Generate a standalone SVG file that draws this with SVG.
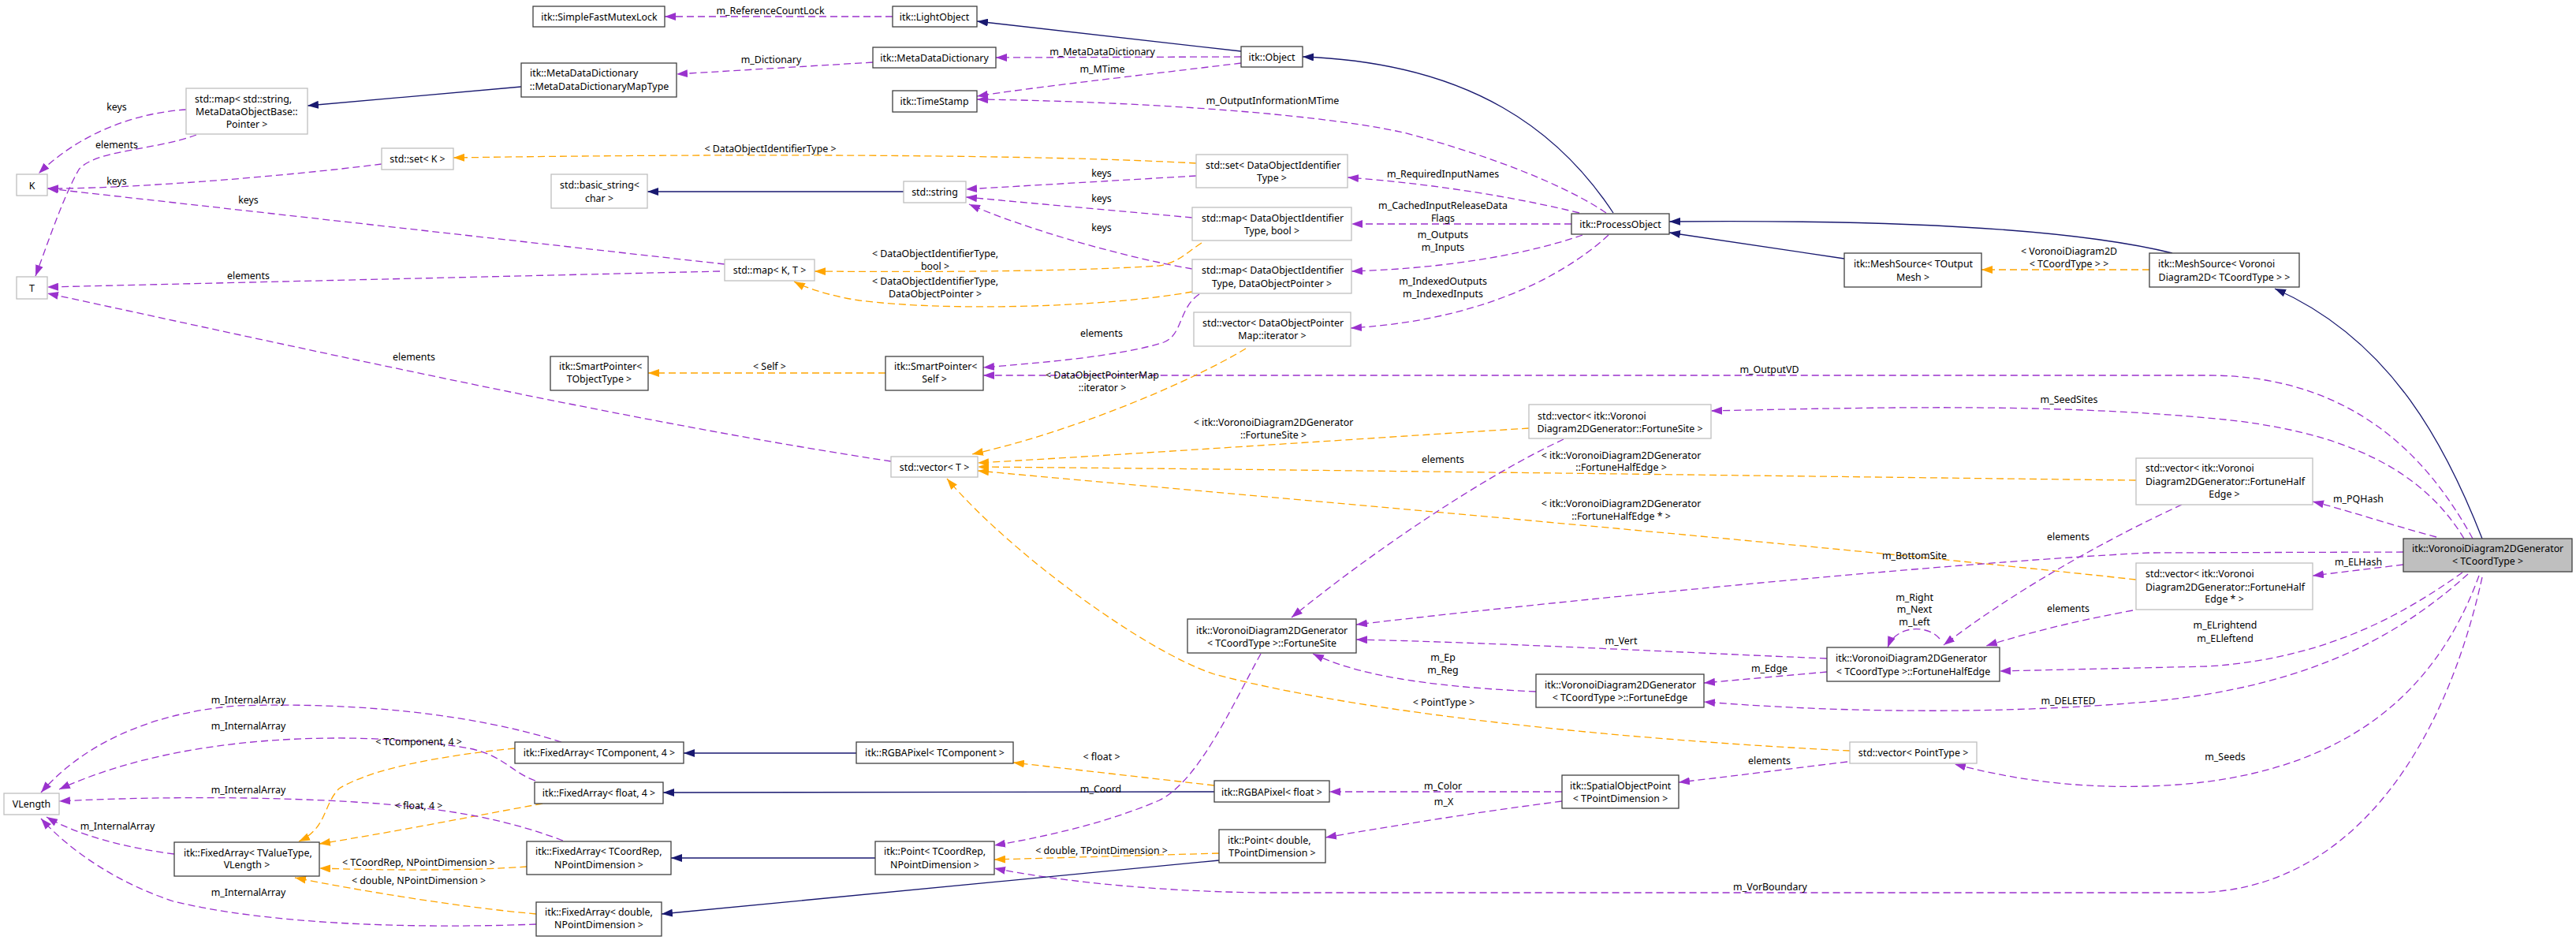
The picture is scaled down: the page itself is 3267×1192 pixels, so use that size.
<svg xmlns="http://www.w3.org/2000/svg" width="3267" height="1192" viewBox="0 0 3267 1192">
<style>
rect{fill:#fff;stroke:#404040;stroke-width:1.3}
.u rect{stroke:#bfbfbf}
#n_main rect{fill:#bfbfbf}
text{font-family:"Noto Sans","DejaVu Sans",sans-serif;font-size:12.4px;fill:#000}
.m{text-anchor:middle}
#edges path{fill:none;stroke-width:1.3}
.b{stroke:#191970}
.p{stroke:#9a32cd;stroke-dasharray:9,5}
.o{stroke:#ffa500;stroke-dasharray:9,5}
.b{marker-end:url(#mb)}
.p{marker-end:url(#mp)}
.o{marker-end:url(#mo)}
</style>
<defs>
<marker id="mb" viewBox="0 0 14 10" refX="14" refY="5" markerWidth="14" markerHeight="10" markerUnits="userSpaceOnUse" orient="auto"><path d="M0,0 L14,5 L0,10 z" fill="#191970"/></marker>
<marker id="mp" viewBox="0 0 14 10" refX="14" refY="5" markerWidth="14" markerHeight="10" markerUnits="userSpaceOnUse" orient="auto"><path d="M0,0 L14,5 L0,10 z" fill="#9a32cd"/></marker>
<marker id="mo" viewBox="0 0 14 10" refX="14" refY="5" markerWidth="14" markerHeight="10" markerUnits="userSpaceOnUse" orient="auto"><path d="M0,0 L14,5 L0,10 z" fill="#ffa500"/></marker>
</defs>
<rect x="0" y="0" width="3267" height="1192" style="fill:#fff;stroke:none"/>

<g id="edges">
<path class="b" d="M1574,65 L1239,27"/>
<path class="p" d="M1107,79 L858,94"/>
<path class="p" d="M1132,21 L843,21"/>
<path class="b" d="M661,110 L390,134"/>
<path class="b" d="M1146,243 L821,243"/>
<path class="p" d="M1574,72 L1263,73"/>
<path class="p" d="M1574,80 C1450,95 1300,112 1239,122"/>
<path class="p" d="M2037,270 C1990,238 1900,200 1780,168 C1650,140 1400,128 1239,126"/>
<path class="b" d="M2046,270 C1980,170 1870,80 1652,72"/>
<path class="o" d="M1517,207 C1300,195 900,195 575,200"/>
<path class="p" d="M1517,223 L1225,240"/>
<path class="p" d="M1512,276 L1225,250"/>
<path class="p" d="M1512,341 C1420,325 1300,290 1229,259"/>
<path class="o" d="M1524,308 C1505,320 1495,333 1470,337 C1350,345 1150,345 1033,344"/>
<path class="o" d="M1512,370 C1400,390 1200,395 1090,381 C1050,375 1020,364 1007,357"/>
<path class="p" d="M919,335 L60,239"/>
<path class="p" d="M913,344 L60,364"/>
<path class="p" d="M484,208 C350,225 150,240 60,239"/>
<path class="p" d="M236,139 C170,143 100,170 49,220"/>
<path class="p" d="M249,171 C200,190 120,190 100,215 C80,250 60,310 45,350"/>
<path class="p" d="M1130,585 C800,535 400,445 60,372"/>
<path class="p" d="M1521,373 C1495,390 1500,425 1476,434 C1420,452 1320,460 1247,466"/>
<path class="o" d="M1123,473 L822,473"/>
<path class="p" d="M3136,683 C3090,600 3000,476 2800,476 L1247,476"/>
<path class="o" d="M1580,442 C1500,490 1350,550 1233,576"/>
<path class="p" d="M2003,270 C1900,245 1800,232 1709,225"/>
<path class="p" d="M1993,284 L1714,284"/>
<path class="p" d="M2007,298 C1950,318 1850,340 1714,344"/>
<path class="p" d="M2040,298 C2000,335 1900,405 1713,416"/>
<path class="p" d="M3125,683 C3075,600 2980,545 2800,530 C2600,512 2400,516 2170,521"/>
<path class="o" d="M1939,543 C1700,558 1450,575 1240,587"/>
<path class="o" d="M2709,609 C2200,603 1700,596 1240,592"/>
<path class="o" d="M2709,735 C2300,690 1600,630 1240,597"/>
<path class="o" d="M2346,952 C2100,940 1750,910 1540,855 C1450,825 1280,700 1201,607"/>
<path class="p" d="M1983,557 C1880,605 1740,700 1638,783"/>
<path class="p" d="M2767,640 C2680,680 2560,745 2465,818"/>
<path class="p" d="M2705,774 C2640,786 2580,800 2519,819"/>
<path class="p" d="M2460,810 C2445,792 2405,792 2394,821"/>
<path class="p" d="M2317,835 C2100,826 1900,815 1720,811"/>
<path class="p" d="M2317,852 L2161,866"/>
<path class="p" d="M1948,877 C1800,870 1720,855 1665,829"/>
<path class="p" d="M3048,700 L2725,701 C2450,715 1950,765 1720,792"/>
<path class="p" d="M3048,716 L2933,730"/>
<path class="p" d="M3090,681 C3030,665 2970,645 2933,636"/>
<path class="p" d="M3123,726 C3060,770 2960,835 2800,845 L2536,851"/>
<path class="p" d="M3130,728 C3060,790 2950,870 2722,890 C2550,905 2350,905 2161,890"/>
<path class="p" d="M3144,730 C3100,850 3000,990 2722,997 C2620,1000 2540,985 2479,969"/>
<path class="p" d="M3148,732 C3100,950 2980,1132 2780,1132 L1600,1132 C1450,1130 1330,1115 1261,1101"/>
<path class="p" d="M2343,966 C2260,976 2200,984 2129,992"/>
<path class="p" d="M1981,1004 L1686,1004"/>
<path class="p" d="M1981,1016 C1880,1029 1780,1045 1681,1062"/>
<path class="o" d="M1540,996 L1285,967"/>
<path class="b" d="M1086,955 L867,955"/>
<path class="b" d="M1540,1004 L841,1005"/>
<path class="b" d="M1110,1088 L851,1088"/>
<path class="b" d="M1546,1091 L839,1159"/>
<path class="o" d="M1546,1082 L1261,1090"/>
<path class="p" d="M1599,829 C1560,900 1520,990 1470,1015 C1400,1045 1320,1062 1261,1072"/>
<path class="o" d="M653,949 C560,958 470,975 430,1000 C410,1020 415,1050 379,1067"/>
<path class="o" d="M688,1019 C600,1035 500,1055 405,1070"/>
<path class="o" d="M668,1099 C600,1104 500,1104 405,1101"/>
<path class="o" d="M680,1159 C580,1150 460,1130 374,1113"/>
<path class="p" d="M712,941 C600,905 450,890 300,895 C180,905 100,950 52,1005"/>
<path class="p" d="M679,990 C650,980 640,960 600,950 C500,930 250,920 75,1001"/>
<path class="p" d="M714,1066 C650,1042 580,1025 450,1017 C300,1008 150,1012 75,1016"/>
<path class="p" d="M221,1083 C160,1075 100,1060 59,1036"/>
<path class="p" d="M680,1172 C520,1178 340,1172 220,1143 C150,1120 90,1080 52,1038"/>
<path class="b" d="M3148,683 C3100,560 3030,430 2885,366"/>
<path class="b" d="M2755,321 C2650,295 2450,278 2117,281"/>
<path class="b" d="M2339,328 L2117,295"/>
<path class="o" d="M2726,342 L2513,342"/>

<g class="lbl">
<text class="m" x="977" y="17.5">m_ReferenceCountLock</text>
<text class="m" x="978" y="79.5">m_Dictionary</text>
<text class="m" x="1398" y="69.5">m_MetaDataDictionary</text>
<text class="m" x="1398" y="91.5">m_MTime</text>
<text class="m" x="1614" y="131.5">m_OutputInformationMTime</text>
<text class="m" x="977" y="192.5">&lt; DataObjectIdentifierType &gt;</text>
<text class="m" x="148" y="139.5">keys</text>
<text class="m" x="148" y="187.5">elements</text>
<text class="m" x="148" y="233.5">keys</text>
<text class="m" x="315" y="257.5">keys</text>
<text class="m" x="315" y="353.5">elements</text>
<text class="m" x="525" y="456.5">elements</text>
<text class="m" x="1397" y="223.5">keys</text>
<text class="m" x="1397" y="255.5">keys</text>
<text class="m" x="1397" y="292.5">keys</text>
<text class="m" x="1186" y="325.5">&lt; DataObjectIdentifierType,</text>
<text class="m" x="1186" y="341.5">bool &gt;</text>
<text class="m" x="1186" y="360.5">&lt; DataObjectIdentifierType,</text>
<text class="m" x="1186" y="376.5">DataObjectPointer &gt;</text>
<text class="m" x="1397" y="426.5">elements</text>
<text class="m" x="976" y="468.5">&lt; Self &gt;</text>
<text class="m" x="1398" y="479.5">&lt; DataObjectPointerMap</text>
<text class="m" x="1398" y="495.5">::iterator &gt;</text>
<text class="m" x="1830" y="224.5">m_RequiredInputNames</text>
<text class="m" x="1830" y="264.5">m_CachedInputReleaseData</text>
<text class="m" x="1830" y="280.5">Flags</text>
<text class="m" x="1830" y="301.5">m_Outputs</text>
<text class="m" x="1830" y="317.5">m_Inputs</text>
<text class="m" x="1830" y="360.5">m_IndexedOutputs</text>
<text class="m" x="1830" y="376.5">m_IndexedInputs</text>
<text class="m" x="2624" y="322.5">&lt; VoronoiDiagram2D</text>
<text class="m" x="2624" y="338.5">&lt; TCoordType &gt; &gt;</text>
<text class="m" x="2244" y="472.5">m_OutputVD</text>
<text class="m" x="2624" y="510.5">m_SeedSites</text>
<text class="m" x="1615" y="539.5">&lt; itk::VoronoiDiagram2DGenerator</text>
<text class="m" x="1615" y="555.5">::FortuneSite &gt;</text>
<text class="m" x="1830" y="586.5">elements</text>
<text class="m" x="2056" y="581.5">&lt; itk::VoronoiDiagram2DGenerator</text>
<text class="m" x="2056" y="596.5">::FortuneHalfEdge &gt;</text>
<text class="m" x="2056" y="642.5">&lt; itk::VoronoiDiagram2DGenerator</text>
<text class="m" x="2056" y="658.5">::FortuneHalfEdge * &gt;</text>
<text class="m" x="2991" y="636.5">m_PQHash</text>
<text class="m" x="2623" y="684.5">elements</text>
<text class="m" x="2428" y="708.5">m_BottomSite</text>
<text class="m" x="2991" y="716.5">m_ELHash</text>
<text class="m" x="2428" y="761.5">m_Right</text>
<text class="m" x="2428" y="776.5">m_Next</text>
<text class="m" x="2428" y="792.5">m_Left</text>
<text class="m" x="2623" y="775.5">elements</text>
<text class="m" x="2822" y="796.5">m_ELrightend</text>
<text class="m" x="2822" y="813.5">m_ELleftend</text>
<text class="m" x="2056" y="816.5">m_Vert</text>
<text class="m" x="1830" y="837.5">m_Ep</text>
<text class="m" x="1830" y="853.5">m_Reg</text>
<text class="m" x="2244" y="851.5">m_Edge</text>
<text class="m" x="2623" y="892.5">m_DELETED</text>
<text class="m" x="1831" y="894.5">&lt; PointType &gt;</text>
<text class="m" x="1397" y="963.5">&lt; float &gt;</text>
<text class="m" x="2822" y="963.5">m_Seeds</text>
<text class="m" x="2244" y="968.5">elements</text>
<text class="m" x="1830" y="1000.5">m_Color</text>
<text class="m" x="1396" y="1004.5">m_Coord</text>
<text class="m" x="1831" y="1020.5">m_X</text>
<text class="m" x="1397" y="1082.5">&lt; double, TPointDimension &gt;</text>
<text class="m" x="2245" y="1128.5">m_VorBoundary</text>
<text class="m" x="531" y="944.5">&lt; TComponent, 4 &gt;</text>
<text class="m" x="531" y="1025.5">&lt; float, 4 &gt;</text>
<text class="m" x="531" y="1097.5">&lt; TCoordRep, NPointDimension &gt;</text>
<text class="m" x="531" y="1120.5">&lt; double, NPointDimension &gt;</text>
<text class="m" x="315" y="891.5">m_InternalArray</text>
<text class="m" x="315" y="924.5">m_InternalArray</text>
<text class="m" x="315" y="1005.5">m_InternalArray</text>
<text class="m" x="149" y="1051.5">m_InternalArray</text>
<text class="m" x="315" y="1135.5">m_InternalArray</text>
</g>
</g>

<g id="n_sfml"><rect x="676" y="8" width="167" height="26"/><text class="m" x="760" y="25.5">itk::SimpleFastMutexLock</text></g>
<g id="n_light"><rect x="1132" y="8" width="107" height="26"/><text class="m" x="1185" y="25.5">itk::LightObject</text></g>
<g id="n_mdd"><rect x="1107" y="60" width="156" height="26"/><text class="m" x="1185" y="77.5">itk::MetaDataDictionary</text></g>
<g id="n_ts"><rect x="1132" y="115" width="107" height="27"/><text class="m" x="1185" y="132.5">itk::TimeStamp</text></g>
<g id="n_obj"><rect x="1574" y="59" width="78" height="26"/><text class="m" x="1613" y="76.5">itk::Object</text></g>
<g id="n_mddmap"><rect x="661" y="80" width="197" height="43"/><text x="672" y="96.5">itk::MetaDataDictionary</text><text class="m" x="760" y="113.5">::MetaDataDictionaryMapType</text></g>
<g id="n_mapstr" class="u"><rect x="236" y="112" width="154" height="58"/><text x="247" y="129.5">std::map&lt; std::string,</text><text x="248" y="145.5">MetaDataObjectBase::</text><text class="m" x="313" y="161.5">Pointer &gt;</text></g>
<g id="n_K" class="u"><rect x="21" y="221" width="39" height="27"/><text class="m" x="40.5" y="239.5">K</text></g>
<g id="n_T" class="u"><rect x="21" y="351" width="39" height="28"/><text class="m" x="40.5" y="369.5">T</text></g>
<g id="n_setK" class="u"><rect x="484" y="188" width="91" height="27"/><text class="m" x="529.5" y="205.5">std::set&lt; K &gt;</text></g>
<g id="n_bstr" class="u"><rect x="699" y="221" width="122" height="43"/><text x="710" y="238.5">std::basic_string&lt;</text><text class="m" x="760" y="255.5">char &gt;</text></g>
<g id="n_mapKT" class="u"><rect x="919" y="329" width="114" height="27"/><text class="m" x="976" y="346.5">std::map&lt; K, T &gt;</text></g>
<g id="n_sptrT"><rect x="698" y="452" width="124" height="43"/><text x="709" y="468.5">itk::SmartPointer&lt;</text><text class="m" x="760" y="484.5">TObjectType &gt;</text></g>
<g id="n_str" class="u"><rect x="1146" y="230" width="79" height="27"/><text class="m" x="1185.5" y="247.5">std::string</text></g>
<g id="n_setDOI" class="u"><rect x="1517" y="196" width="192" height="42"/><text x="1529" y="213.5">std::set&lt; DataObjectIdentifier</text><text class="m" x="1613" y="229.5">Type &gt;</text></g>
<g id="n_mapbool" class="u"><rect x="1512" y="263" width="202" height="42"/><text x="1524" y="280.5">std::map&lt; DataObjectIdentifier</text><text class="m" x="1613" y="296.5">Type, bool &gt;</text></g>
<g id="n_mapdop" class="u"><rect x="1512" y="329" width="202" height="43"/><text x="1524" y="346.5">std::map&lt; DataObjectIdentifier</text><text class="m" x="1613" y="363.5">Type, DataObjectPointer &gt;</text></g>
<g id="n_vecit" class="u"><rect x="1514" y="396" width="199" height="43"/><text x="1525" y="413.5">std::vector&lt; DataObjectPointer</text><text class="m" x="1613.5" y="429.5">Map::iterator &gt;</text></g>
<g id="n_sptrS"><rect x="1123" y="452" width="124" height="43"/><text x="1134" y="468.5">itk::SmartPointer&lt;</text><text class="m" x="1185" y="484.5">Self &gt;</text></g>
<g id="n_vecT" class="u"><rect x="1130" y="579" width="110" height="26"/><text class="m" x="1185" y="596.5">std::vector&lt; T &gt;</text></g>
<g id="n_po"><rect x="1993" y="271" width="124" height="26"/><text class="m" x="2055" y="288.5">itk::ProcessObject</text></g>
<g id="n_vecFS" class="u"><rect x="1939" y="513" width="231" height="43"/><text x="1950" y="531.5">std::vector&lt; itk::Voronoi</text><text class="m" x="2054.5" y="547.5">Diagram2DGenerator::FortuneSite &gt;</text></g>
<g id="n_msT"><rect x="2339" y="321" width="174" height="43"/><text x="2351" y="338.5">itk::MeshSource&lt; TOutput</text><text class="m" x="2426" y="355.5">Mesh &gt;</text></g>
<g id="n_msV"><rect x="2726" y="321" width="190" height="43"/><text x="2737" y="338.5">itk::MeshSource&lt; Voronoi</text><text class="m" x="2821" y="355.5">Diagram2D&lt; TCoordType &gt; &gt;</text></g>
<g id="n_vecFHE" class="u"><rect x="2709" y="581" width="224" height="59"/><text x="2721" y="597.5">std::vector&lt; itk::Voronoi</text><text x="2721" y="614.5">Diagram2DGenerator::FortuneHalf</text><text class="m" x="2821" y="630.5">Edge &gt;</text></g>
<g id="n_vecFHEp" class="u"><rect x="2709" y="714" width="224" height="59"/><text x="2721" y="731.5">std::vector&lt; itk::Voronoi</text><text x="2721" y="748.5">Diagram2DGenerator::FortuneHalf</text><text class="m" x="2821" y="763.5">Edge * &gt;</text></g>
<g id="n_main"><rect x="3048" y="683" width="214" height="42"/><text x="3059" y="699.5">itk::VoronoiDiagram2DGenerator</text><text class="m" x="3155" y="715.5">&lt; TCoordType &gt;</text></g>
<g id="n_fhe"><rect x="2317" y="821" width="219" height="43"/><text x="2328" y="838.5">itk::VoronoiDiagram2DGenerator</text><text class="m" x="2426.5" y="855.5">&lt; TCoordType &gt;::FortuneHalfEdge</text></g>
<g id="n_fs"><rect x="1506" y="785" width="214" height="43"/><text x="1517" y="803.5">itk::VoronoiDiagram2DGenerator</text><text class="m" x="1613" y="819.5">&lt; TCoordType &gt;::FortuneSite</text></g>
<g id="n_fe"><rect x="1948" y="855" width="213" height="42"/><text x="1959" y="872.5">itk::VoronoiDiagram2DGenerator</text><text class="m" x="2054.5" y="888.5">&lt; TCoordType &gt;::FortuneEdge</text></g>
<g id="n_vecPT" class="u"><rect x="2346" y="941" width="161" height="27"/><text class="m" x="2426.5" y="958.5">std::vector&lt; PointType &gt;</text></g>
<g id="n_sop"><rect x="1981" y="983" width="148" height="42"/><text x="1991" y="1000.5">itk::SpatialObjectPoint</text><text class="m" x="2055" y="1016.5">&lt; TPointDimension &gt;</text></g>
<g id="n_rgbaT"><rect x="1086" y="941" width="199" height="27"/><text class="m" x="1185.5" y="958.5">itk::RGBAPixel&lt; TComponent &gt;</text></g>
<g id="n_rgbaf"><rect x="1540" y="990" width="146" height="27"/><text class="m" x="1613" y="1008.5">itk::RGBAPixel&lt; float &gt;</text></g>
<g id="n_ptT"><rect x="1110" y="1067" width="151" height="42"/><text x="1121" y="1083.5">itk::Point&lt; TCoordRep,</text><text class="m" x="1185.5" y="1100.5">NPointDimension &gt;</text></g>
<g id="n_ptd"><rect x="1546" y="1052" width="135" height="42"/><text x="1557" y="1069.5">itk::Point&lt; double,</text><text class="m" x="1613.5" y="1085.5">TPointDimension &gt;</text></g>
<g id="n_faTC"><rect x="653" y="941" width="214" height="27"/><text class="m" x="760" y="958.5">itk::FixedArray&lt; TComponent, 4 &gt;</text></g>
<g id="n_faf"><rect x="678" y="992" width="163" height="27"/><text class="m" x="759.5" y="1009.5">itk::FixedArray&lt; float, 4 &gt;</text></g>
<g id="n_faTR"><rect x="668" y="1067" width="183" height="42"/><text x="679" y="1083.5">itk::FixedArray&lt; TCoordRep,</text><text class="m" x="759.5" y="1100.5">NPointDimension &gt;</text></g>
<g id="n_fad"><rect x="680" y="1144" width="159" height="43"/><text x="691" y="1160.5">itk::FixedArray&lt; double,</text><text class="m" x="759.5" y="1176.5">NPointDimension &gt;</text></g>
<g id="n_vlen" class="u"><rect x="5" y="1006" width="70" height="27"/><text class="m" x="40" y="1023.5">VLength</text></g>
<g id="n_faTV"><rect x="221" y="1068" width="184" height="43"/><text x="233" y="1085.5">itk::FixedArray&lt; TValueType,</text><text class="m" x="313" y="1100.5">VLength &gt;</text></g>
</svg>
